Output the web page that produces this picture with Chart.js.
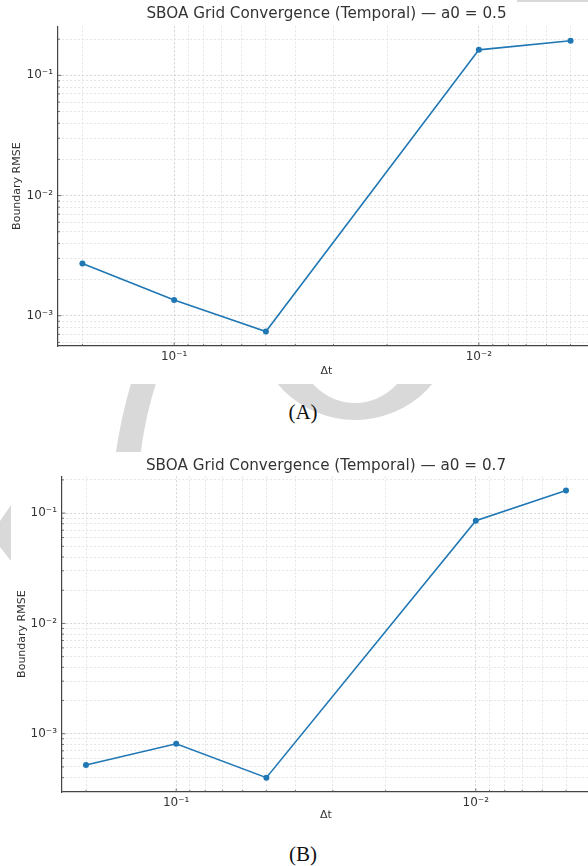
<!DOCTYPE html>
<html>
<head>
<meta charset="utf-8">
<script src="https://cdn.jsdelivr.net/npm/chart.js@4.4.1/dist/chart.umd.min.js"></script>
<style>
  html, body { margin: 0; padding: 0; background: #fff; }
  body { width: 588px; height: 866px; position: relative; overflow: hidden; }
  #mark { position: absolute; left: 0; top: 0; }
  .panel { position: absolute; background: #fff; overflow: hidden; }
  .panel canvas { display: block; }
  .cap { position: absolute; font-family: "Liberation Serif", serif; font-size: 21px; color: #111;
         transform: translate(-50%, -50%); white-space: nowrap; }
</style>
</head>
<body>
<!-- grey logo shapes behind the two panels -->
<svg id="mark" width="588" height="866">
  <g fill="#d9d9d9">
    <path d="M132,380 Q121,416 115,458 L140,458 Q145,416 157,380 Z"/>
    <path fill-rule="evenodd" d="M254,319 a101,101 0 1,0 202,0 a101,101 0 1,0 -202,0 Z M299,347 a56,56 0 1,0 112,0 a56,56 0 1,0 -112,0 Z"/>
    <polygon points="11,505 0,521 0,547 11,561"/>
    <rect x="517" y="0" width="80" height="10"/>
  </g>
</svg>

<div class="panel" style="left:0;top:2px;width:605px;height:382px"><canvas id="chartA" width="605" height="382"></canvas></div>
<div class="cap" style="left:303px;top:412px">(A)</div>
<div class="panel" style="left:11px;top:452px;width:589px;height:380px"><canvas id="chartB" width="589" height="380"></canvas></div>
<div class="cap" style="left:303px;top:854px">(B)</div>

<script>
// time step sizes and boundary errors for the two runs
var dtValues = [0.2, 0.1, 0.05, 0.01, 0.005];
var rmseA = [2.72e-3, 1.35e-3, 7.4e-4, 0.163, 0.194];
var rmseB = [5.2e-4, 8.1e-4, 4.0e-4, 0.0854, 0.160];

var titleA = "SBOA Grid Convergence (Temporal) \u2014 a0 = 0.5";
var titleB = "SBOA Grid Convergence (Temporal) \u2014 a0 = 0.7";

// decade ticks and their labels
var xMajor = [0.1, 0.01];
var xMajorLabels = ["10\u207B\u00B9", "10\u207B\u00B2"];
var yMajor = [0.1, 0.01, 0.001];
var yMajorLabels = ["10\u207B\u00B9", "10\u207B\u00B2", "10\u207B\u00B3"];

var FONT = '"DejaVu Sans", sans-serif';
var lineColor = '#1f77b4';

// log axis limits with 5% margin each side
function logRange(vals) {
  var lo = Math.log10(Math.min.apply(null, vals));
  var hi = Math.log10(Math.max.apply(null, vals));
  var m = (hi - lo) * 0.05;
  return [Math.pow(10, lo - m), Math.pow(10, hi + m)];
}

// 1..9 x 10^n ticks inside [min, max]
function logTicks(min, max) {
  var out = [];
  for (var e = Math.floor(Math.log10(min)); e <= Math.ceil(Math.log10(max)); e++) {
    for (var k = 1; k < 10; k++) {
      var v = k * Math.pow(10, e);
      if (v >= min && v <= max) out.push({ value: v, major: k === 1 });
    }
  }
  return out;
}

function decadeLabel(majors, labels) {
  return function (value) {
    for (var i = 0; i < majors.length; i++) {
      if (Math.abs(value / majors[i] - 1) < 1e-6) return labels[i];
    }
    return '';
  };
}

function gridColor(ctx) {
  return ctx.tick && ctx.tick.major ? '#cbcbcb' : '#dedede';
}

// small inward tick marks on the left and bottom spines
var innerTicks = {
  id: 'innerTicks',
  afterDraw: function (chart) {
    var ctx = chart.ctx, a = chart.chartArea;
    var sx = chart.scales.x, sy = chart.scales.y;
    ctx.save();
    ctx.strokeStyle = '#555';
    ctx.lineWidth = 0.8;
    ctx.beginPath();
    sx.ticks.forEach(function (t) {
      var px = sx.getPixelForValue(t.value), len = t.major ? 3.5 : 2;
      ctx.moveTo(px, a.bottom);
      ctx.lineTo(px, a.bottom - len);
    });
    sy.ticks.forEach(function (t) {
      var py = sy.getPixelForValue(t.value), len = t.major ? 3.5 : 2;
      ctx.moveTo(a.left, py);
      ctx.lineTo(a.left + len, py);
    });
    ctx.stroke();
    ctx.restore();
  }
};

function makeChart(id, title, yVals, box) {
  var xr = logRange(dtValues);
  var yr = logRange(yVals);
  return new Chart(id, {
    type: 'line',
    data: {
      datasets: [{
        data: dtValues.map(function (d, i) { return { x: d, y: yVals[i] }; }),
        borderColor: lineColor,
        backgroundColor: lineColor,
        borderWidth: 1.6,
        pointRadius: 3,
        pointHoverRadius: 3,
        pointBorderWidth: 0,
        tension: 0
      }]
    },
    options: {
      responsive: false,
      animation: false,
      layout: { padding: { left: 0, right: box.right, top: 0, bottom: 0 } },
      plugins: {
        legend: { display: false },
        tooltip: { enabled: false },
        title: {
          display: true, text: title, fullSize: false, color: '#333',
          font: { family: FONT, size: 15.2, weight: 'normal' },
          padding: { top: box.titleTop, bottom: box.titleBottom }
        }
      },
      scales: {
        x: {
          type: 'logarithmic', reverse: true, min: xr[0], max: xr[1],
          afterBuildTicks: function (s) { s.ticks = logTicks(s.min, s.max); },
          afterFit: function (s) { s.height = box.xHeight; },
          ticks: {
            autoSkip: false, maxRotation: 0, padding: 4, color: '#333',
            font: { family: FONT, size: 12 },
            callback: decadeLabel(xMajor, xMajorLabels)
          },
          grid: { drawTicks: false, lineWidth: 0.8, color: gridColor },
          border: { display: true, color: '#444', width: 1.2, dash: [2, 2] },
          title: {
            display: true, text: '\u0394t', color: '#333',
            font: { family: FONT, size: 11 },
            padding: { top: 0, bottom: box.xTitle }
          }
        },
        y: {
          type: 'logarithmic', min: yr[0], max: yr[1],
          afterBuildTicks: function (s) { s.ticks = logTicks(s.min, s.max); },
          afterFit: function (s) { s.width = box.yWidth; },
          ticks: {
            autoSkip: false, padding: 5, color: '#333',
            font: { family: FONT, size: 12 },
            callback: decadeLabel(yMajor, yMajorLabels)
          },
          grid: { drawTicks: false, lineWidth: 0.8, color: gridColor },
          border: { display: true, color: '#444', width: 1.2, dash: [2, 2] },
          title: {
            display: true, text: 'Boundary RMSE', color: '#333',
            font: { family: FONT, size: 11 },
            padding: { top: box.yTitle, bottom: 0 }
          }
        }
      }
    },
    plugins: [innerTicks]
  });
}

makeChart('chartA', titleA, rmseA,
  { right: 10, titleTop: 3, titleBottom: 3, xHeight: 38, yWidth: 58, xTitle: 6, yTitle: 11 });
makeChart('chartB', titleB, rmseB,
  { right: 10, titleTop: 5, titleBottom: 1, xHeight: 40, yWidth: 51, xTitle: 10, yTitle: 5 });
</script>
</body>
</html>
